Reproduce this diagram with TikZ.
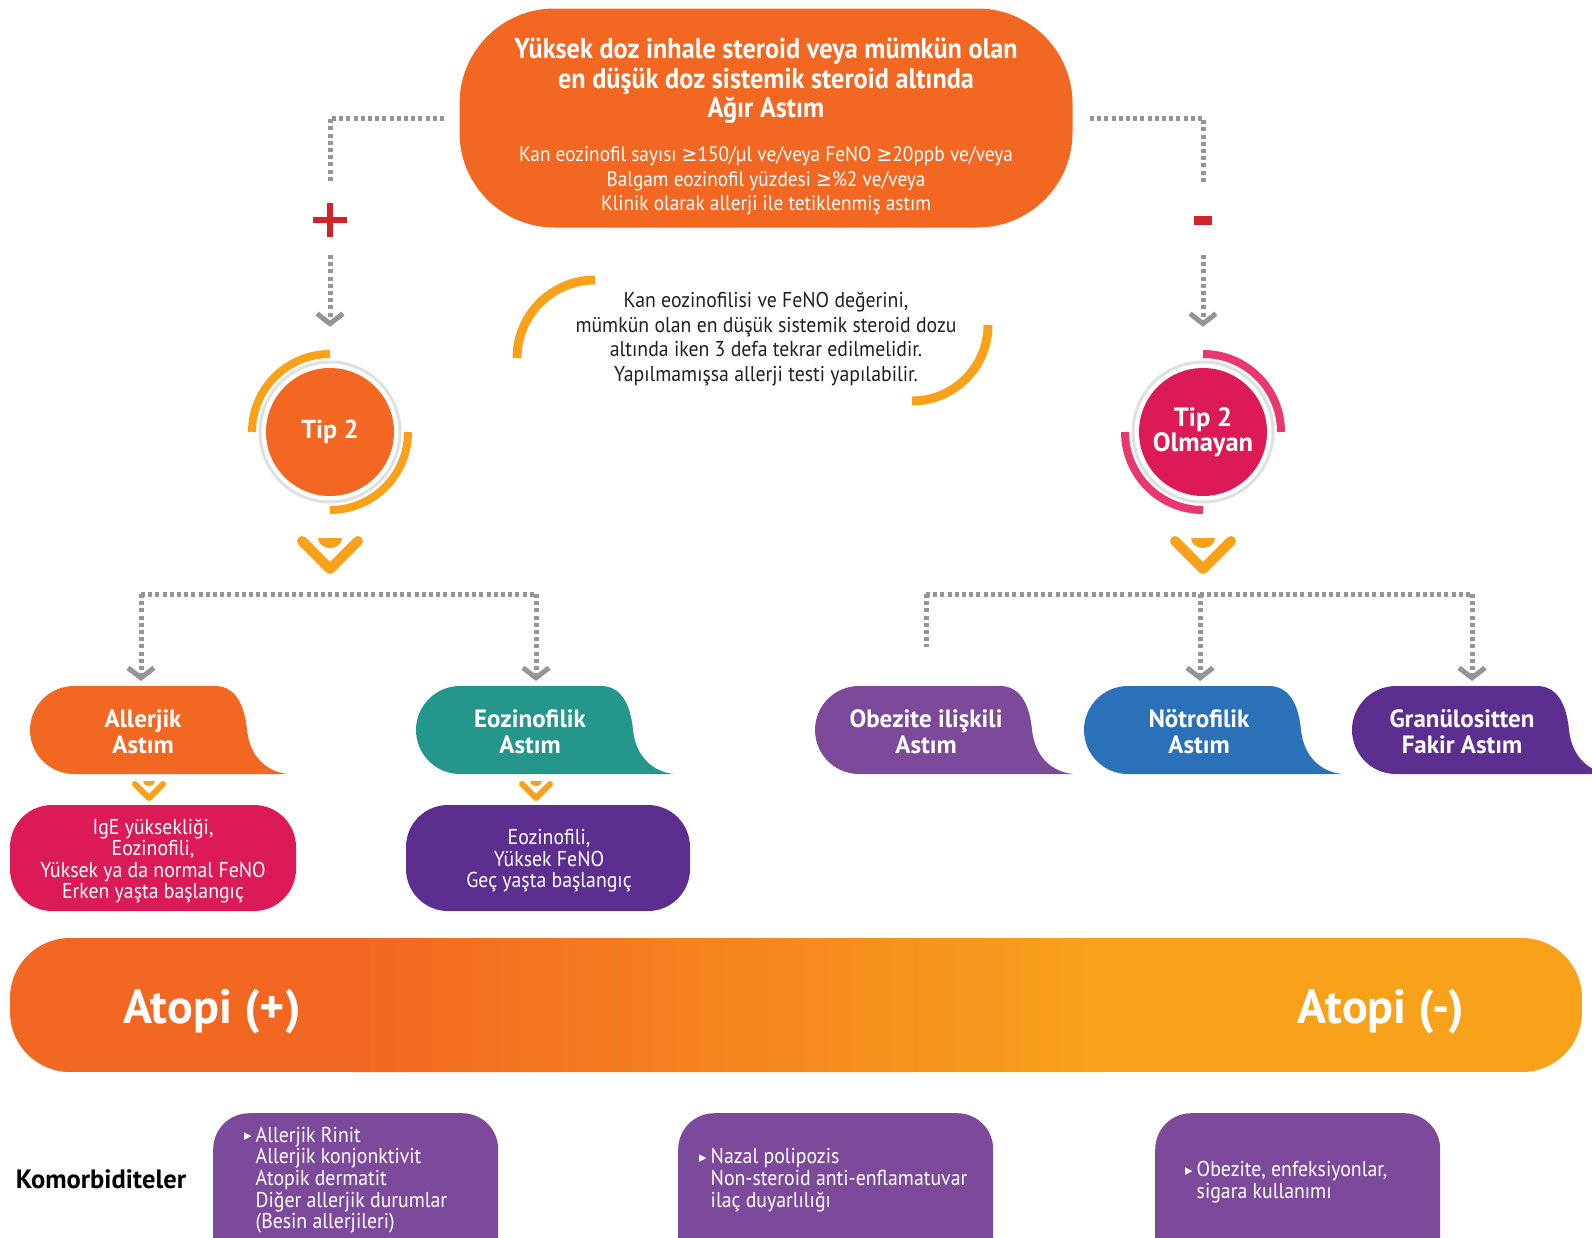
\documentclass[tikz,border=0pt]{standalone}
\usepackage{fontspec}
\setmainfont{PT Sans}
\newfontfamily\cond[FakeStretch=0.85]{PT Sans}
\newfontfamily\condw[FakeStretch=0.92]{PT Sans}
\newfontfamily\symf{DejaVu Sans}
\newfontfamily\symc[FakeStretch=0.9]{DejaVu Sans}
\usetikzlibrary{arrows.meta}

\definecolor{orangeM}{HTML}{F26722}
\definecolor{amberM}{HTML}{F8A21B}
\definecolor{crimsonM}{HTML}{DC1A55}
\definecolor{pinkArc}{HTML}{E8386D}
\definecolor{tealM}{HTML}{24968B}
\definecolor{purpleL}{HTML}{7D4A9B}
\definecolor{purpleD}{HTML}{5C2E8F}
\definecolor{blueM}{HTML}{2B71B8}
\definecolor{greyD}{HTML}{939598}
\definecolor{redS}{HTML}{D2232A}
\definecolor{inkT}{HTML}{231F20}

\tikzset{
  dotline/.style={draw=greyD, line width=5pt, dash pattern=on 4pt off 3.2pt},
  arr/.style={-{Straight Barb[length=10pt,width=26pt,line width=5pt]}},
  bubtext/.style={text=white, align=center, inner sep=0pt,
    font=\bfseries\fontsize{25}{26}\selectfont},
  subtext/.style={text=white, align=center, inner sep=0pt,
    font=\condw\fontsize{21.5}{21.5}\selectfont},
  comtext/.style={text=white, align=left, inner sep=0pt, anchor=west,
    font=\condw\fontsize{21.5}{21.3}\selectfont},
  pics/bubble/.style={code={
    \fill[#1] (44,0) -- (185,0) .. controls (207,0) and (215,22) .. (217,44)
      .. controls (220,72) and (238,86) .. (258,88) -- (44,88)
      arc[start angle=90,end angle=270,radius=44] -- cycle;}},
  pics/chevbig/.style={code={
    \draw[amberM,line width=10pt,line cap=round,line join=round]
      (-28,-12) -- (0,16) -- (28,-12);
    \fill[amberM] (12,-15) arc[start angle=0,end angle=180,x radius=12,y radius=10] -- cycle;}},
  pics/chevsmall/.style={code={
    \draw[amberM,line width=6pt,line cap=round,line join=round]
      (-14,-6) -- (0,8) -- (14,-6);
    \fill[amberM] (6,-9) arc[start angle=0,end angle=180,x radius=6,y radius=5] -- cycle;}},
}
\newcommand{\bul}{{\symf\fontsize{15}{15}\selectfont\raisebox{1.5pt}{▸}}}
\newcommand{\gtq}{{\symc ≥}}

\begin{document}
\begin{tikzpicture}[x=1pt,y=-1pt]
\useasboundingbox (0,0) rectangle (1592,1237);

% ---- top box ----
\node[fill=orangeM, rounded corners=95pt, minimum width=613pt, minimum height=219pt,
      inner sep=0pt] (top) at (766,118) {};
\node[text=white, align=center, inner sep=0pt,
      font=\condw\bfseries\fontsize{28.5}{29.5}\selectfont] (topT) at (766,81)
  {Yüksek doz inhale steroid veya mümkün olan\\en düşük doz sistemik steroid altında\\Ağır Astım};
\node[text=white, align=center, inner sep=0pt,
      font=\condw\fontsize{21}{24.5}\selectfont] (topS) at (766,181)
  {Kan eozinofil sayısı \gtq150/µl ve/veya FeNO \gtq20ppb ve/veya\\Balgam eozinofil yüzdesi \gtq\%2 ve/veya\\Klinik olarak allerji ile tetiklenmiş astım};

% ---- note with arcs ----
\node[text=inkT, align=center, inner sep=0pt,
      font=\condw\fontsize{21.5}{24.5}\selectfont] (note) at (766,339)
  {Kan eozinofilisi ve FeNO değerini,\\mümkün olan en düşük sistemik steroid dozu\\altında iken 3 defa tekrar edilmelidir.\\Yapılmamışsa allerji testi yapılabilir.};
\draw[amberM, line width=9pt] (595,358) ++(180:78) arc[start angle=180,end angle=270,radius=78];
\draw[amberM, line width=9pt] (912,325) ++(0:76) arc[start angle=0,end angle=90,radius=76];

% ---- Tip 2 circle ----
\fill[white] (330,432) circle[radius=73];
\draw[black!12, line width=3pt] (330,432) circle[radius=70];
\node[circle, fill=orangeM, minimum size=128pt, inner sep=0pt, text=white,
      font=\bfseries\fontsize{26}{28}\selectfont] (tip2) at (330,432) {\raisebox{-3pt}{Tip 2}};
\draw[amberM, line width=8pt] (330,432) ++(180:78) arc[start angle=180,end angle=270,radius=78];
\draw[amberM, line width=8pt] (330,432) ++(0:78) arc[start angle=0,end angle=90,radius=78];

% ---- Tip 2 Olmayan circle ----
\fill[white] (1203,432) circle[radius=73];
\draw[black!12, line width=3pt] (1203,432) circle[radius=70];
\node[circle, fill=crimsonM, minimum size=128pt, inner sep=0pt, text=white, align=center,
      font=\bfseries\fontsize{26.5}{24.5}\selectfont] (ntip2) at (1203,432) {Tip 2\\Olmayan};
\draw[pinkArc, line width=8pt] (1203,432) ++(270:78) arc[start angle=270,end angle=360,radius=78];
\draw[pinkArc, line width=8pt] (1203,432) ++(90:78) arc[start angle=90,end angle=180,radius=78];

% ---- plus / minus signs ----
\node[minimum size=33pt, inner sep=0pt] (plusL) at (330,220) {};
\draw[redS, line width=6pt] (plusL.west) -- (plusL.east) (plusL.north) -- (plusL.south);
\node[fill=redS, minimum width=18pt, minimum height=9pt, inner sep=0pt] (minusR) at (1203,220) {};

% ---- upper connectors ----
\coordinate (lTop) at (444,118);
\coordinate (lBend) at (330,183);
\coordinate (lDown) at (330,255);
\draw[dotline] (lTop) -| (lBend);
\draw[dotline, arr, shorten >=41pt] (lDown) -- (tip2.north);
\coordinate (rTop) at (1090,118);
\coordinate (rBend) at (1203,183);
\coordinate (rDown) at (1203,255);
\draw[dotline] (rTop) -| (rBend);
\draw[dotline, arr, shorten >=41pt] (rDown) -- (ntip2.north);

% ---- chevrons below circles ----
\pic at (330,553) {chevbig};
\pic at (1203,553) {chevbig};

% ---- branch connectors ----
\coordinate (bl1) at (141,594);
\coordinate (bl2) at (536,594);
\coordinate (aIn) at (141,681);
\coordinate (eIn) at (536,681);
\draw[dotline] (bl1) -- (bl2);
\draw[dotline, arr] (bl1) -- (aIn);
\draw[dotline, arr] (bl2) -- (eIn);

\coordinate (br1) at (926,594);
\coordinate (br2) at (1200,594);
\coordinate (br3) at (1472,594);
\coordinate (oEnd) at (926,647);
\coordinate (nIn) at (1200,681);
\coordinate (gIn) at (1472,681);
\draw[dotline] (br1) -- (br3);
\draw[dotline] (br1) -- (oEnd);
\draw[dotline, arr] (br2) -- (nIn);
\draw[dotline, arr] (br3) -- (gIn);

% ---- asthma phenotype bubbles ----
\pic at (30,686) {bubble=orangeM};
\pic at (416,686) {bubble=tealM};
\pic at (815,686) {bubble=purpleL};
\pic at (1084,686) {bubble=blueM};
\pic at (1352,686) {bubble=purpleD};
\node[bubtext] (alle) at (143,732) {Allerjik\\Astım};
\node[bubtext] (eozi) at (530,732) {Eozinofilik\\Astım};
\node[bubtext] (obez) at (926,732) {Obezite ilişkili\\Astım};
\node[bubtext] (notr) at (1199,732) {Nötrofilik\\Astım};
\node[bubtext] (gran) at (1462,732) {Granülositten\\Fakir Astım};

% ---- small chevrons ----
\pic at (149,790) {chevsmall};
\pic at (536,790) {chevsmall};

% ---- feature boxes ----
\node[fill=crimsonM, rounded corners=42pt, minimum width=286pt, minimum height=106pt,
      inner sep=0pt] (ige) at (153,858) {};
\node[subtext] (igeT) at (153,861)
  {IgE yüksekliği,\\Eozinofili,\\Yüksek ya da normal FeNO\\Erken yaşta başlangıç};
\node[fill=purpleD, rounded corners=42pt, minimum width=284pt, minimum height=106pt,
      inner sep=0pt] (eoz) at (548,858) {};
\node[subtext] (eozT) at (549,861)
  {Eozinofili,\\Yüksek FeNO\\Geç yaşta başlangıç};

% ---- atopy bar ----
\begin{scope}
  \clip[rounded corners=60pt] (10,938) rectangle (1582,1072);
  \fill[orangeM] (10,938) rectangle (352,1072);
  \shade[left color=orangeM, right color=amberM] (350,938) rectangle (1102,1072);
  \fill[amberM] (1100,938) rectangle (1582,1072);
\end{scope}
\node[text=white, inner sep=0pt, font=\bfseries\fontsize{48}{50}\selectfont] (atp) at (212,1012) {Atopi (+)};
\node[text=white, inner sep=0pt, font=\bfseries\fontsize{48}{50}\selectfont] (atm) at (1381,1012) {Atopi (-)};

% ---- comorbidities ----
\node[text=black, inner sep=0pt, font=\bfseries\fontsize{26.5}{28}\selectfont] (kom) at (101,1179) {Komorbiditeler};
\node[fill=purpleL, rounded corners=36pt, minimum width=285pt, minimum height=170pt,
      inner sep=0pt, anchor=north west] (k1) at (213,1113) {};
\node[fill=purpleL, rounded corners=36pt, minimum width=315pt, minimum height=170pt,
      inner sep=0pt, anchor=north west] (k2) at (678,1113) {};
\node[fill=purpleL, rounded corners=36pt, minimum width=285pt, minimum height=170pt,
      inner sep=0pt, anchor=north west] (k3) at (1155,1113) {};
\node[comtext] (k1T) at (244,1181)
  {\begin{tabular}{@{}l@{\hspace{4pt}}l@{}}
   \bul & Allerjik Rinit\\ & Allerjik konjonktivit\\ & Atopik dermatit\\
   & Diğer allerjik durumlar\\ & (Besin allerjileri)\end{tabular}};
\node[comtext] (k2T) at (699,1181)
  {\begin{tabular}{@{}l@{\hspace{4pt}}l@{}}
   \bul & Nazal polipozis\\ & Non-steroid anti-enflamatuvar\\ & ilaç duyarlılığı\end{tabular}};
\node[comtext] (k3T) at (1185,1183)
  {\begin{tabular}{@{}l@{\hspace{4pt}}l@{}}
   \bul & Obezite, enfeksiyonlar,\\ & sigara kullanımı\end{tabular}};
\end{tikzpicture}
\end{document}
